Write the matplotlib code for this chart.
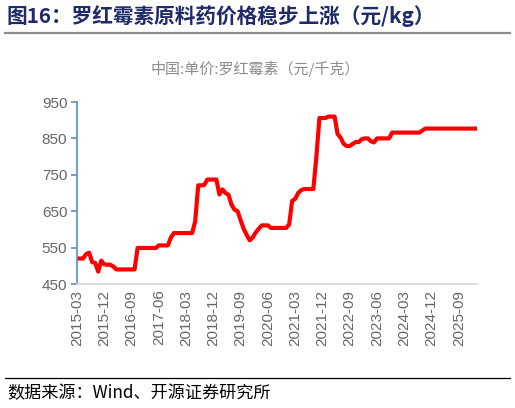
import matplotlib.pyplot as plt

# monthly price, 2015-03 .. 2026-03 (yuan/kg)
price = [
    520, 520, 520, 532, 536, 510, 508, 484, 514, 504,
    503, 503, 498, 490, 490, 490, 490, 490, 490, 490,
    549, 549, 549, 549, 549, 549, 549, 556, 556, 556,
    556, 578, 590, 590, 590, 590, 590, 590, 590, 622,
    721, 721, 722, 737, 737, 737, 737, 696, 710, 700,
    695, 668, 654, 650, 625, 602, 585, 570, 578, 592,
    602, 611, 611, 611, 604, 604, 604, 604, 604, 604,
    613, 678, 684, 700, 708, 711, 711, 711, 711, 800,
    906, 906, 906, 910, 910, 910, 862, 852, 835, 829,
    829, 835, 840, 840, 848, 850, 850, 842, 839, 850,
    850, 850, 850, 850, 866, 866, 866, 866, 866, 866,
    866, 866, 866, 866, 872, 877, 877, 877, 877, 877,
    877, 877, 877, 877, 877, 877, 877, 877, 877, 877,
    877, 877, 877,
]
tick_labels = ['2015-03', '2015-12', '2016-09', '2017-06', '2018-03',
               '2018-12', '2019-09', '2020-06', '2021-03', '2021-12',
               '2022-09', '2023-06', '2024-03', '2024-12', '2025-09']
y_ticks = [450, 550, 650, 750, 850, 950]

cjk = ['Noto Sans CJK SC', 'DejaVu Sans']

fig = plt.figure(figsize=(5.15, 4.08), dpi=100)
ax = fig.add_axes([77/515, 1 - 284/408, 400/515, 182/408])

x = list(range(len(price)))
ax.plot(x, price, color='#FF0000', lw=3, solid_joinstyle='round')

ax.set_xlim(0, len(price) - 1)
ax.set_ylim(450, 950)
ax.set_yticks(y_ticks)
ax.set_xticks(list(range(0, 9 * len(tick_labels), 9)))
ax.set_xticklabels(tick_labels, rotation=90)

for s in ['top', 'right']:
    ax.spines[s].set_visible(False)
ax.spines['left'].set_color('#5B8BD0')
ax.spines['left'].set_linewidth(1.2)
ax.spines['bottom'].set_color('#D9D9D9')
ax.spines['bottom'].set_linewidth(1.2)
ax.tick_params(axis='y', colors='#5B8BD0', length=4, width=1.2, labelcolor='#666666',
               labelsize=11, pad=3)
ax.tick_params(axis='x', length=0, labelcolor='#666666', labelsize=11, pad=4)
for lab in ax.get_xticklabels() + ax.get_yticklabels():
    lab.set_fontfamily('Liberation Sans')

# title block
fig.text(7/515, 1 - 16/408, '图16：罗红霉素原料药价格稳步上涨（元/kg）', family=cjk,
         fontsize=14.9, fontweight='bold', color='#1F2A6B', va='center', ha='left')
fig.add_artist(plt.Line2D([5/515, 510/515], [1 - 33/408, 1 - 33/408],
                          color='#8C8C8C', lw=1.6))
fig.text(255/515, 1 - 69/408, '中国:单价:罗红霉素（元/千克）', family=cjk,
         fontsize=10.8, color='#8C8C8C', va='center', ha='center')

# source
fig.add_artist(plt.Line2D([5/515, 510/515], [1 - 378/408, 1 - 378/408],
                          color='black', lw=0.9))
fig.text(7/515, 1 - 393/408, '数据来源：Wind、开源证券研究所', family=cjk,
         fontsize=12.3, color='black', va='center', ha='left')

fig.savefig('out.png', dpi=100)
